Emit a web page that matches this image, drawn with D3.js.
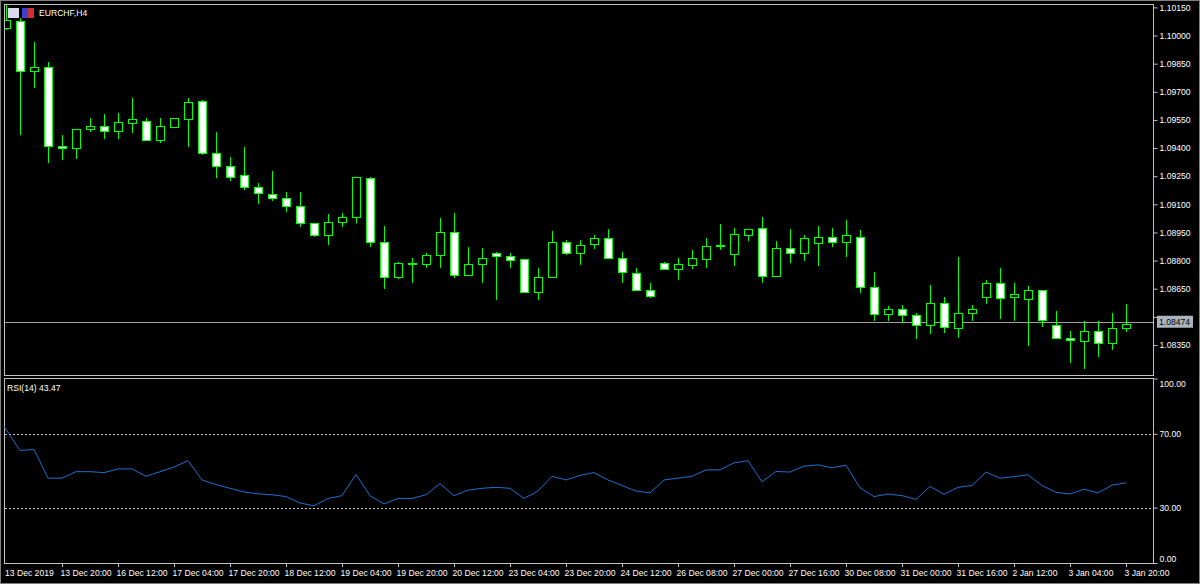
<!DOCTYPE html>
<html>
<head>
<meta charset="utf-8">
<script src="https://cdn.jsdelivr.net/npm/d3@7"></script>
<style>
  body { margin: 0; background: #000; }
  svg text { font-family: "Liberation Sans", Arial, sans-serif; font-size: 8.6px; }
</style>
</head>
<body>
<svg id="chart" width="1200" height="584"></svg>
<script>
// EURCHF H4 candles
const openP  = [1.10040,1.10077,1.09811,1.09832,1.09411,1.09400,1.09501,1.09517,1.09491,1.09533,1.09544,1.09443,1.09512,1.09555,1.09651,1.09374,1.09304,1.09256,1.09192,1.09155,1.09134,1.09091,1.09000,1.08936,1.09006,1.09032,1.09240,1.08899,1.08713,1.08782,1.08782,1.08830,1.08952,1.08723,1.08782,1.08841,1.08825,1.08809,1.08633,1.08713,1.08899,1.08841,1.08888,1.08920,1.08814,1.08734,1.08643,1.08787,1.08755,1.08777,1.08809,1.08878,1.08835,1.08936,1.08974,1.08718,1.08867,1.08841,1.08894,1.08926,1.08899,1.08926,1.08659,1.08515,1.08542,1.08510,1.08457,1.08574,1.08441,1.08521,1.08606,1.08681,1.08606,1.08595,1.08643,1.08457,1.08388,1.08371,1.08425,1.08361,1.08441];
const highP  = [1.10162,1.10093,1.09965,1.09859,1.09469,1.09501,1.09560,1.09581,1.09587,1.09667,1.09560,1.09560,1.09560,1.09667,1.09656,1.09485,1.09352,1.09406,1.09213,1.09278,1.09166,1.09166,1.09000,1.09048,1.09054,1.09246,1.09246,1.08984,1.08793,1.08814,1.08841,1.09027,1.09054,1.08872,1.08867,1.08846,1.08841,1.08809,1.08761,1.08958,1.08910,1.08910,1.08936,1.08968,1.08846,1.08761,1.08681,1.08793,1.08814,1.08857,1.08920,1.08995,1.08974,1.08968,1.09032,1.08904,1.08968,1.08936,1.08984,1.08974,1.09016,1.08963,1.08739,1.08558,1.08563,1.08521,1.08670,1.08606,1.08819,1.08563,1.08697,1.08761,1.08681,1.08665,1.08643,1.08531,1.08425,1.08478,1.08478,1.08521,1.08569];
const lowP   = [1.10029,1.09469,1.09720,1.09320,1.09336,1.09342,1.09485,1.09448,1.09448,1.09480,1.09443,1.09427,1.09507,1.09406,1.09363,1.09240,1.09224,1.09176,1.09102,1.09118,1.09059,1.08979,1.08926,1.08883,1.08979,1.08998,1.08872,1.08649,1.08702,1.08681,1.08761,1.08761,1.08707,1.08723,1.08681,1.08590,1.08761,1.08633,1.08590,1.08713,1.08830,1.08777,1.08862,1.08809,1.08681,1.08638,1.08601,1.08755,1.08697,1.08755,1.08761,1.08857,1.08771,1.08904,1.08681,1.08713,1.08787,1.08798,1.08771,1.08872,1.08819,1.08627,1.08478,1.08478,1.08467,1.08382,1.08409,1.08414,1.08388,1.08478,1.08569,1.08489,1.08478,1.08345,1.08446,1.08382,1.08254,1.08222,1.08286,1.08324,1.08420];
const closeP = [1.10082,1.09811,1.09832,1.09411,1.09400,1.09501,1.09517,1.09491,1.09539,1.09555,1.09443,1.09517,1.09560,1.09645,1.09374,1.09304,1.09246,1.09192,1.09160,1.09134,1.09091,1.09000,1.08936,1.09006,1.09032,1.09246,1.08899,1.08713,1.08787,1.08787,1.08830,1.08952,1.08723,1.08782,1.08814,1.08825,1.08803,1.08633,1.08713,1.08899,1.08841,1.08883,1.08920,1.08814,1.08739,1.08643,1.08611,1.08755,1.08782,1.08814,1.08878,1.08883,1.08942,1.08968,1.08718,1.08867,1.08841,1.08920,1.08926,1.08899,1.08936,1.08659,1.08515,1.08542,1.08510,1.08457,1.08574,1.08446,1.08521,1.08542,1.08681,1.08601,1.08622,1.08643,1.08483,1.08388,1.08377,1.08425,1.08361,1.08441,1.08462];

// RSI(14) per bar
const rsiValues = [74,61,61.5,46,46,49.5,49.5,49,51,51,47,49.5,52,55.5,45,42.5,40.5,38.5,37.5,37,36,32.5,31,35,36.5,48,36.5,32,35,35,37,43,36.5,39.5,40.5,41,40.5,35,39,47,45,47.5,49,45,42,39,38,45,46,47,50.4,50.5,54.3,55.4,44,49.6,49.3,52.5,53.2,51.6,53,40.8,36,37.4,36.5,34.5,41.5,37.2,41,42,49.3,46,46.8,47.8,42,38.3,37.4,40,38,42.2,43.47];

// one time label every 4 bars
const timeLabels = ["13 Dec 2019","13 Dec 20:00","16 Dec 12:00","17 Dec 04:00","17 Dec 20:00","18 Dec 12:00","19 Dec 04:00","19 Dec 20:00","20 Dec 12:00","23 Dec 04:00","23 Dec 20:00","24 Dec 12:00","26 Dec 08:00","27 Dec 00:00","27 Dec 16:00","30 Dec 08:00","31 Dec 00:00","31 Dec 16:00","2 Jan 12:00","3 Jan 04:00","3 Jan 20:00"];
const priceTicks = [1.10150,1.10000,1.09850,1.09700,1.09550,1.09400,1.09250,1.09100,1.08950,1.08800,1.08650,1.08500,1.08350];
const rsiTicks = [100,70,30,0];
const rsiLevels = [70,30];
const lastPrice = 1.08474;

const svg = d3.select('#chart');
const frame = '#c0c0c0';
const green = '#00ff00';

// panel geometry
const main = {x0: 4, x1: 1153, y0: 4, y1: 375};
const sub  = {x0: 4, x1: 1153, y0: 378, y1: 563};

const x = d3.scaleLinear().domain([0, 80]).range([6, 1126]);
const y = d3.scaleLinear().domain([1.10150, 1.08350]).range([7.4, 345]);
const yR = d3.scaleLinear().domain([0, 100]).range([563, 378.5]);

// outer window border
svg.append('rect').attr('x', 0.5).attr('y', 0.5).attr('width', 1199).attr('height', 583)
    .attr('fill', 'none').attr('stroke', '#808080');

[main, sub].forEach(p => {
    svg.append('rect')
        .attr('x', p.x0 + 0.5).attr('y', p.y0 + 0.5)
        .attr('width', p.x1 - p.x0).attr('height', p.y1 - p.y0)
        .attr('fill', '#000').attr('stroke', frame);
});

// price axis (the tick hidden behind the current price box is skipped)
const yAxis = svg.append('g')
    .attr('transform', 'translate(' + (main.x1 + 0.5) + ',0)')
    .call(d3.axisRight(y).tickValues(priceTicks).tickSize(4).tickFormat(d3.format('.5f')));
yAxis.select('.domain').remove();
yAxis.selectAll('line').attr('stroke', frame);
yAxis.selectAll('text').attr('fill', '#fff').attr('x', 6)
    .style('visibility', d => Math.abs(y(d) - y(lastPrice)) < 9 ? 'hidden' : null);

// current price line
svg.append('line')
    .attr('x1', main.x0 + 1).attr('x2', main.x1)
    .attr('y1', Math.round(y(lastPrice)) + 0.5).attr('y2', Math.round(y(lastPrice)) + 0.5)
    .attr('stroke', '#a0a0a0');
svg.append('rect')
    .attr('x', main.x1 + 4).attr('y', y(lastPrice) - 6)
    .attr('width', 36).attr('height', 12).attr('fill', '#a9b4bf');
svg.append('text')
    .attr('x', main.x1 + 6).attr('y', y(lastPrice) + 3.5)
    .attr('fill', '#000').text(lastPrice.toFixed(5));

// candles
const bars = d3.range(openP.length).map(i => ({
    i: i, o: openP[i], h: highP[i], l: lowP[i], c: closeP[i]
}));
const bw = 9;
svg.append('clipPath').attr('id', 'clipMain').append('rect')
    .attr('x', main.x0 + 1).attr('y', main.y0 + 1)
    .attr('width', main.x1 - main.x0 - 1).attr('height', main.y1 - main.y0 - 1);
const g = svg.append('g').attr('clip-path', 'url(#clipMain)');

g.selectAll('.wick').data(bars).enter().append('line')
    .attr('x1', d => Math.round(x(d.i)) + 0.5).attr('x2', d => Math.round(x(d.i)) + 0.5)
    .attr('y1', d => y(d.h)).attr('y2', d => y(d.l))
    .attr('stroke', green);

g.selectAll('.body').data(bars).enter().append('rect')
    .attr('x', d => Math.round(x(d.i)) - (bw - 1) / 2 + 0.5)
    .attr('y', d => Math.round(y(Math.max(d.o, d.c))) + 0.5)
    .attr('width', bw - 1)
    .attr('height', d => Math.max(1, Math.round(Math.abs(y(d.o) - y(d.c)))))
    .attr('fill', d => d.c < d.o ? '#fff' : '#000')
    .attr('stroke', green);

// title
svg.append('rect').attr('x', 8).attr('y', 8).attr('width', 11).attr('height', 10).attr('fill', '#d8d8f0');
svg.append('rect').attr('x', 22).attr('y', 8).attr('width', 12).attr('height', 10).attr('fill', '#4040d0');
svg.append('rect').attr('x', 28).attr('y', 8).attr('width', 6).attr('height', 10).attr('fill', '#d03030');
svg.append('text').attr('x', 39).attr('y', 16).attr('fill', '#fff').text('EURCHF,H4');

// RSI panel
const rAxis = svg.append('g')
    .attr('transform', 'translate(' + (sub.x1 + 0.5) + ',0)')
    .call(d3.axisRight(yR).tickValues(rsiTicks).tickSize(4).tickFormat(d3.format('.2f')));
rAxis.select('.domain').remove();
rAxis.selectAll('line').attr('stroke', frame);
rAxis.selectAll('text').attr('fill', '#fff').attr('x', 6)
    .attr('dy', d => d === 100 ? '0.9em' : d === 0 ? '-0.2em' : '0.32em');

svg.selectAll('.lvl').data(rsiLevels).enter().append('line')
    .attr('x1', sub.x0 + 1).attr('x2', sub.x1)
    .attr('y1', d => Math.round(yR(d)) + 0.5).attr('y2', d => Math.round(yR(d)) + 0.5)
    .attr('stroke', '#c8c8c8').attr('stroke-dasharray', '2,2');

svg.append('path').datum(rsiValues)
    .attr('fill', 'none').attr('stroke', '#1e6fd0').attr('stroke-width', 1)
    .attr('d', d3.line().x((d, i) => i === 0 ? 4 : x(i)).y(d => yR(d)));

svg.append('text').attr('x', 7).attr('y', 391).attr('fill', '#fff').text('RSI(14) 43.47');

// time axis
const tg = svg.append('g');
timeLabels.forEach((t, k) => {
    const xi = Math.round(x(k * 4)) + 0.5;
    if (k > 0) {
        tg.append('line').attr('x1', xi).attr('x2', xi)
            .attr('y1', sub.y1).attr('y2', sub.y1 + 4).attr('stroke', frame);
    }
    tg.append('text')
        .attr('x', k === 0 ? 5 : xi - 2).attr('y', 576)
        .attr('fill', '#fff').text(t);
});
</script>
</body>
</html>
